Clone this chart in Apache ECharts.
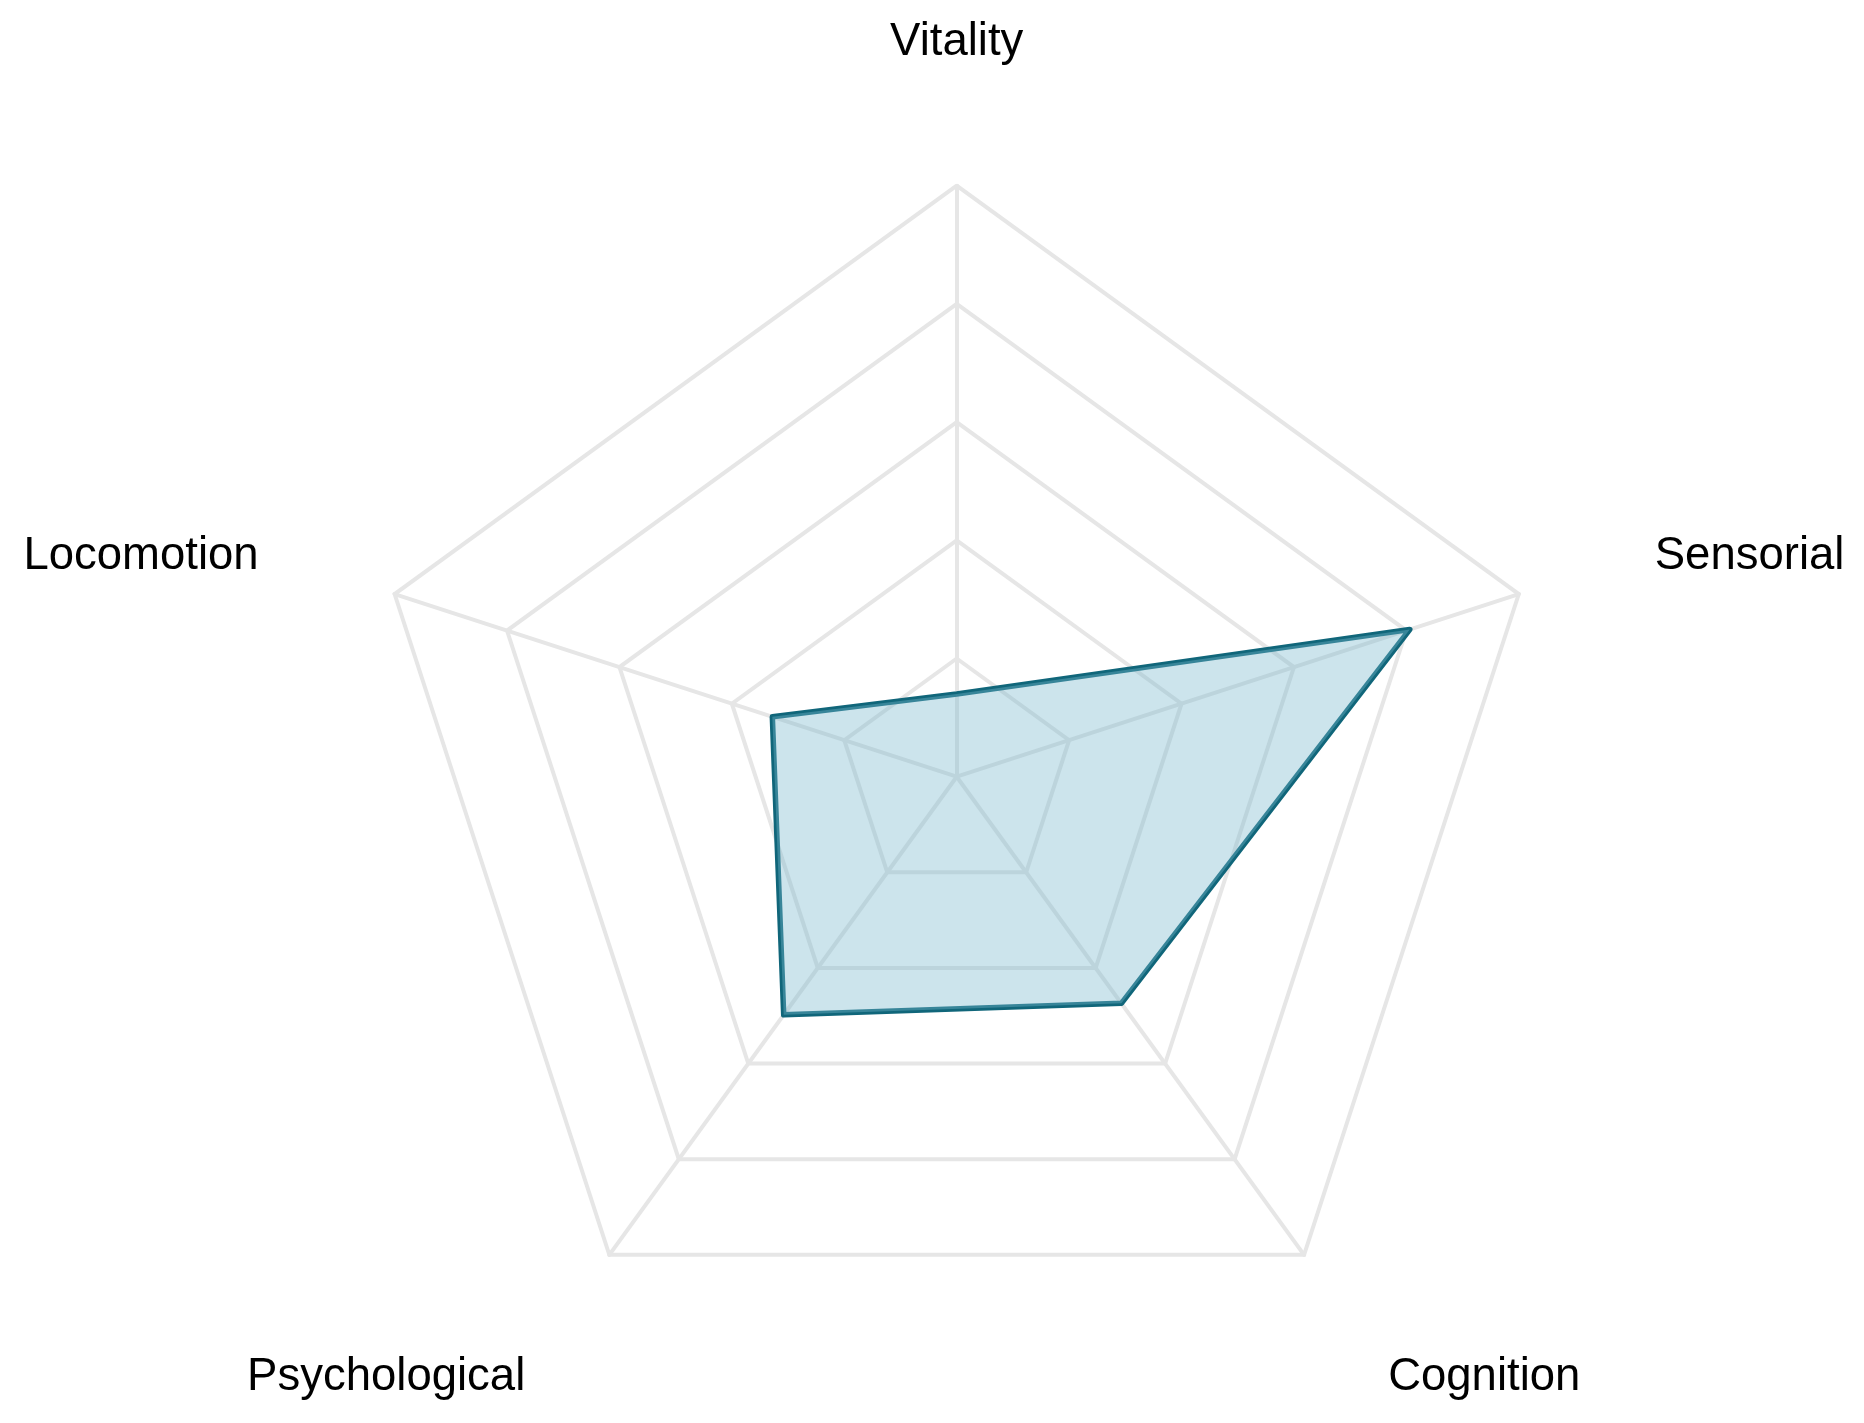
<!DOCTYPE html>
<html>
<head>
<meta charset="utf-8">
<script src="https://cdn.jsdelivr.net/npm/echarts@6/dist/echarts.min.js"></script>
<style>
html,body{margin:0;padding:0;background:#fff;}
#chart{width:1864px;height:1423px;}
</style>
</head>
<body>
<div id="chart"></div>
<script>
// Categories in ECharts' default counter-clockwise order, starting at top
const categories = ['Vitality', 'Locomotion', 'Psychological', 'Cognition', 'Sensorial'];
const values = [0.7, 1.64, 2.49, 2.37, 4.03];
const axisMax = 5;

const chart = echarts.init(document.getElementById('chart'));
chart.setOption({
  animation: false,
  backgroundColor: '#ffffff',
  radar: {
    center: [956.7, 776.7],
    radius: 591,
    startAngle: 90,
    splitNumber: 5,
    shape: 'polygon',
    indicator: categories.map(n => ({ name: n, min: 0, max: axisMax })),
    nameGap: 143,
    axisName: {
      color: '#000000',
      fontFamily: 'Liberation Sans, Arial, sans-serif',
      fontSize: 45.5,
      lineHeight: 1,
      formatter: function (name) {
        return name === categories[0] ? '{t|' + name + '}' : '{g| }\n{t|' + name + '}';
      },
      rich: {
        g: { fontSize: 1, lineHeight: 13 },
        t: { fontSize: 45.5, lineHeight: 1, color: '#000000', fontFamily: 'Liberation Sans, Arial, sans-serif' }
      }
    },
    axisLine: { lineStyle: { color: '#e6e6e6', width: 4 } },
    splitLine: { lineStyle: { color: '#e6e6e6', width: 4 } },
    splitArea: { show: false },
    axisTick: { show: false },
    axisLabel: { show: false }
  },
  series: [{
    type: 'radar',
    symbol: 'none',
    lineStyle: { color: '#10667a', width: 5.5, opacity: 1 },
    areaStyle: { color: 'rgba(120,185,205,0.38)', opacity: 1 },
    data: [{ value: values }]
  }]
});
</script>
</body>
</html>
